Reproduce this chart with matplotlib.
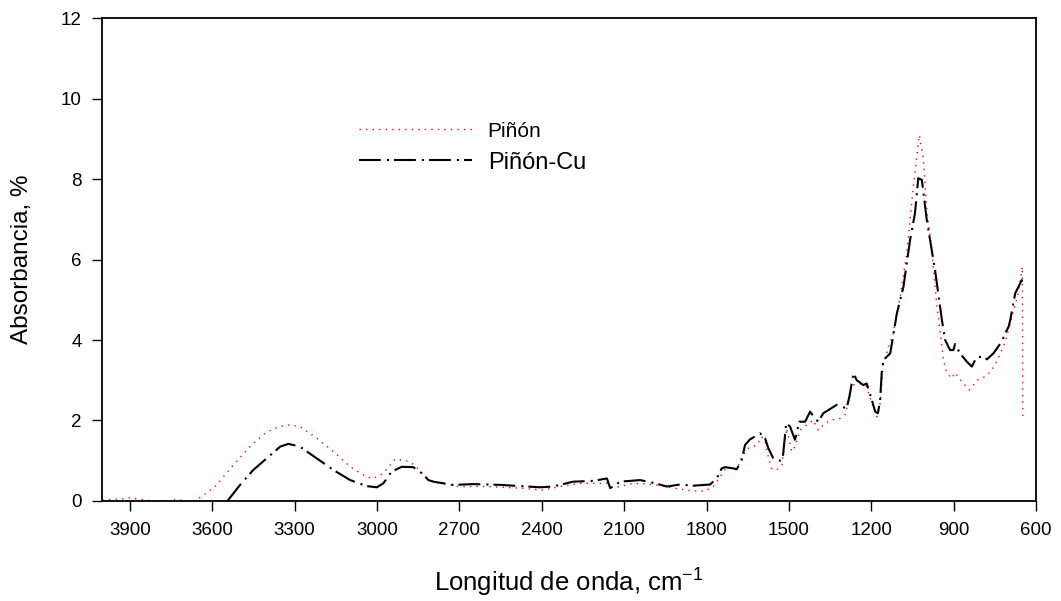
import matplotlib
matplotlib.use("Agg")
import matplotlib.pyplot as plt
from matplotlib import rcParams

rcParams['font.family'] = ['Liberation Sans', 'DejaVu Sans']
rcParams['mathtext.fontset'] = 'custom'
rcParams['mathtext.rm'] = 'Liberation Sans'
rcParams['mathtext.it'] = 'Liberation Sans'

# Piñón (raw sample)
wn_pinon = [4000, 3985, 3936, 3900, 3864, 3827, 3767, 3730, 3693, 3663, 3622,
            3584, 3524, 3463, 3402, 3353, 3324, 3281, 3220, 3159, 3098, 3038,
            3014, 2977, 2935, 2892, 2862, 2837, 2807, 2771, 2698, 2601, 2479,
            2394, 2334, 2261, 2163, 2139, 2067, 1994, 1921, 1848, 1805, 1775,
            1751, 1726, 1690, 1672, 1648, 1617, 1599, 1587, 1575, 1563, 1544,
            1526, 1508, 1490, 1478, 1460, 1435, 1411, 1393, 1375, 1350, 1314,
            1296, 1284, 1271, 1241, 1217, 1198, 1180, 1168, 1156, 1120, 1095,
            1071, 1047, 1025, 1010, 998, 980, 962, 949, 937, 925, 907, 895,
            877, 859, 843, 828, 810, 785, 761, 737, 712, 694, 665, 650, 648]
abs_pinon = [0.02, 0.03, 0.05, 0.08, 0.04, 0.01, 0.00, 0.04, 0.00, 0.01, 0.19,
             0.40, 0.89, 1.35, 1.72, 1.85, 1.89, 1.85, 1.56, 1.23, 0.85, 0.60,
             0.56, 0.69, 1.04, 1.00, 0.89, 0.69, 0.52, 0.44, 0.36, 0.36, 0.32,
             0.27, 0.36, 0.44, 0.44, 0.32, 0.44, 0.41, 0.32, 0.25, 0.25, 0.36,
             0.60, 0.85, 0.77, 1.10, 1.31, 1.39, 1.60, 1.47, 1.10, 0.81, 0.77,
             0.89, 1.81, 1.23, 1.35, 1.76, 1.89, 2.01, 1.76, 1.89, 2.01, 2.05,
             2.14, 2.43, 2.88, 2.92, 2.84, 2.43, 2.09, 2.43, 3.42, 4.17, 5.08,
             6.15, 7.81, 9.09, 8.47, 7.23, 6.24, 4.91, 4.17, 3.50, 3.17, 3.05, 3.19,
             3.02, 2.88, 2.76, 2.88, 3.02, 3.09, 3.25, 3.55, 3.96, 4.41, 5.16, 5.82, 2.01]

# Piñón-Cu (copper-loaded sample)
wn_cu = [3545, 3499, 3451, 3402, 3353, 3323, 3281, 3220, 3159, 3098, 3038,
         3001, 2977, 2947, 2910, 2868, 2837, 2813, 2795, 2722, 2650, 2550,
         2406, 2359, 2286, 2213, 2163, 2151, 2115, 2042, 1994, 1944, 1896,
         1848, 1787, 1763, 1745, 1733, 1702, 1690, 1672, 1660, 1642, 1605,
         1587, 1575, 1557, 1532, 1522, 1510, 1496, 1478, 1462, 1441, 1423,
         1405, 1393, 1375, 1356, 1326, 1290, 1280, 1265, 1253, 1229, 1217,
         1198, 1186, 1176, 1168, 1162, 1156, 1131, 1107, 1083, 1059, 1041,
         1029, 1016, 998, 968, 943, 931, 919, 913, 901, 895, 877, 852, 834,
         816, 792, 779, 755, 725, 712, 700, 694, 676, 652, 648]
abs_cu = [0.00, 0.40, 0.77, 1.06, 1.35, 1.42, 1.35, 1.06, 0.77, 0.52, 0.37,
          0.34, 0.44, 0.73, 0.85, 0.84, 0.69, 0.52, 0.48, 0.40, 0.42, 0.40,
          0.34, 0.36, 0.48, 0.50, 0.56, 0.32, 0.48, 0.52, 0.45, 0.36, 0.41,
          0.38, 0.41, 0.56, 0.81, 0.84, 0.81, 0.79, 1.02, 1.39, 1.53, 1.68,
          1.56, 1.31, 1.06, 1.00, 1.10, 1.93, 1.85, 1.52, 1.97, 1.97, 2.22,
          2.05, 1.97, 2.18, 2.26, 2.39, 2.30, 2.59, 3.17, 3.00, 2.88, 2.92,
          2.51, 2.22, 2.18, 2.50, 3.20, 3.50, 3.67, 4.66, 5.32, 6.48, 7.15,
          8.02, 7.98, 6.98, 5.74, 4.50, 4.00, 3.83, 3.75, 3.75, 3.90, 3.67, 3.46, 3.34,
          3.58, 3.58, 3.52, 3.67, 3.96, 4.17, 4.33, 4.50, 5.16, 5.49, 5.30]

xticks = [3900, 3600, 3300, 3000, 2700, 2400, 2100, 1800, 1500, 1200, 900, 600]
yticks = [0, 2, 4, 6, 8, 10, 12]

fig = plt.figure(figsize=(10.61, 6.01), dpi=100, facecolor='white')
ax = fig.add_axes([0.0966, 0.1664, 0.8799, 0.8036])

l1, = ax.plot(wn_pinon, abs_pinon, color='red', linewidth=1.0,
              linestyle=(0, (1, 3.7)))
l2, = ax.plot(wn_cu, abs_cu, color='black', linewidth=1.5,
              linestyle=(0, (10.5, 2.9, 1, 2.4)))

ax.set_xlim(4000, 600)
ax.set_ylim(0, 12)
ax.set_xticks(xticks)
ax.set_yticks(yticks)
ax.tick_params(direction='out', length=7, width=1.0, labelsize=13.5, pad=8)
for s in ax.spines.values():
    s.set_linewidth(1.3)

ax.set_xlabel(r'Longitud de onda, cm$^{-1}$', fontsize=18.5, labelpad=20)
ax.set_ylabel('Absorbancia, %', fontsize=17.5, labelpad=20)

leg = ax.legend([l1, l2], ['Piñón', 'Piñón-Cu'], loc='upper left',
                bbox_to_anchor=(0.252, 0.832), frameon=False, handlelength=4.8,
                handletextpad=0.65, labelspacing=0.45, fontsize=17)
leg.get_texts()[0].set_fontsize(15)

fig.savefig('out.png', dpi=100, facecolor='white')
